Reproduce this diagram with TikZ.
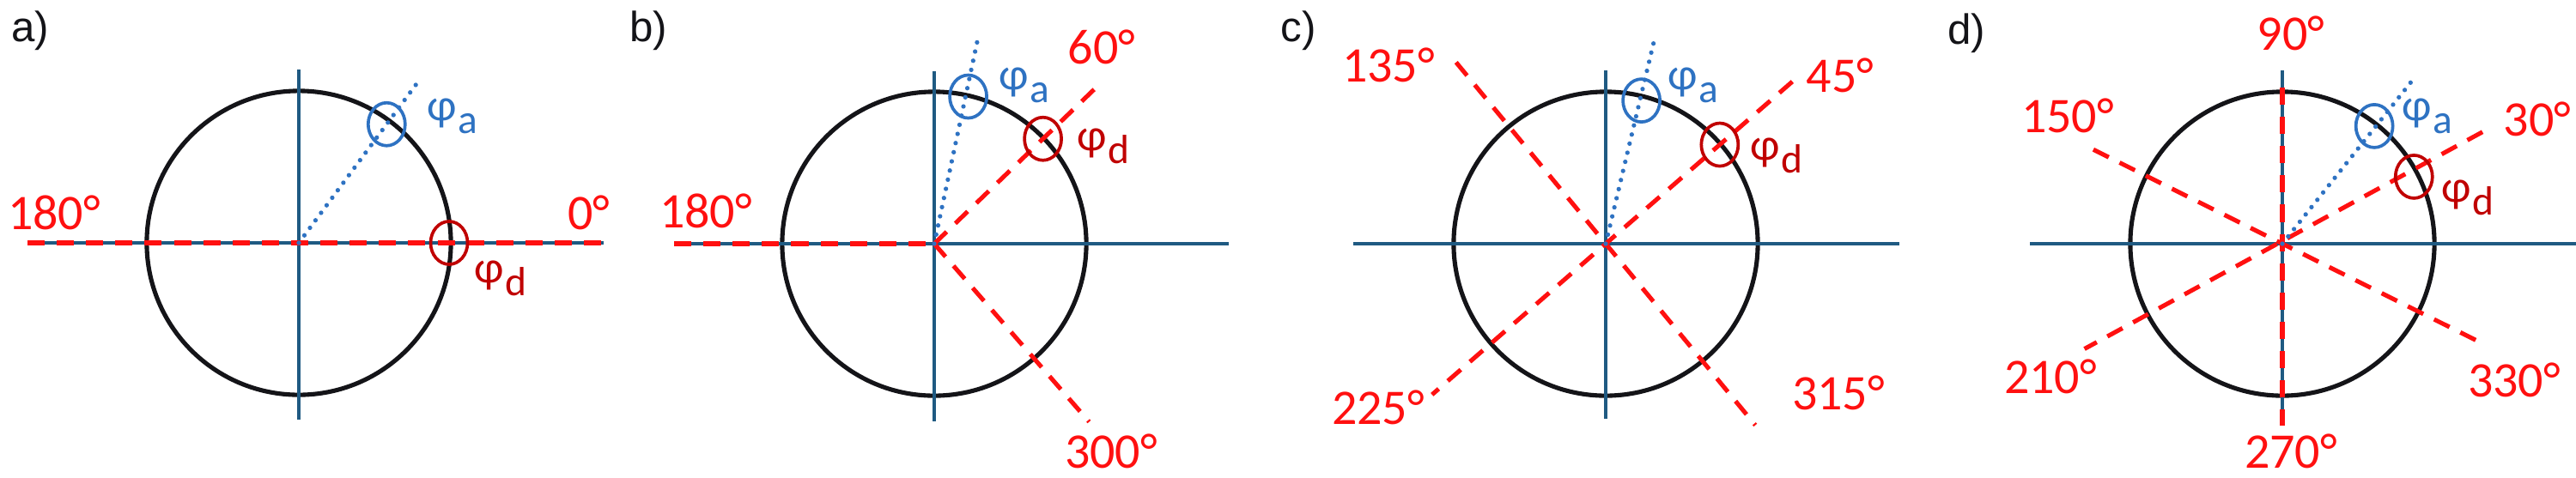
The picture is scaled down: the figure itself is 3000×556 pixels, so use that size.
\documentclass[tikz,border=0pt]{standalone}
\usepackage{fontspec}
\setmainfont{Carlito}
\newfontfamily\lblfont{Liberation Sans}
\usetikzlibrary{calc,shapes.geometric}
\definecolor{axisc}{HTML}{1F5A82}
\definecolor{ringc}{HTML}{141418}
\definecolor{redc}{HTML}{FF1010}
\definecolor{bluec}{HTML}{2E72C2}
\definecolor{dredc}{HTML}{C00000}
\newcommand\phlab[1]{φ\kern0.03em\raisebox{-0.3em}{\fontsize{13.5}{15}\selectfont #1}}
\begin{document}
\begin{tikzpicture}[x=0.01cm,y=0.01cm,
 axis/.style={draw=axisc,line width=1.3pt},
 ring/.style={draw=ringc,line width=1.45pt},
 rdash/.style={draw=redc,line width=1.45pt,dash pattern=on 5.7pt off 4pt},
 dotl/.style={draw=bluec,line width=1.5pt,line cap=round,dash pattern=on 0pt off 3.1pt},
 amark/.style={draw=bluec,line width=1.05pt,ellipse,minimum width=0.43cm,minimum height=0.5cm,inner sep=0pt},
 dmark/.style={amark,draw=dredc},
 deg/.style={text=redc,font=\fontsize{16.5}{18}\selectfont,inner sep=0pt},
 alab/.style={text=bluec,font=\fontsize{15}{17}\selectfont,inner sep=0pt,anchor=base west},
 dlab/.style={alab,text=dredc},
 plab/.style={text=ringc,font=\lblfont\fontsize{14}{16}\selectfont,inner sep=0pt}
]
\useasboundingbox (0,0) rectangle (3000,556);

% ---------- panel a ----------
\coordinate (Oa) at (348,273);
\draw[ring] (Oa) circle [radius=1.77cm];
\draw[axis] ($(Oa)+(0,202)$) -- ($(Oa)+(0,-206)$);
\draw[axis] ($(Oa)+(-316,0)$) -- ($(Oa)+(355,0)$);
\draw[rdash] ($(Oa)+(-316,0)$) -- ($(Oa)+(355,0)$);
\draw[dotl] (Oa) -- ($(Oa)+(53.5:235)$);
\node[amark] (ma) at ($(Oa)+(53.5:172)$) {};
\node[dmark] (da) at ($(Oa)+(0:175)$) {};
\node[alab] (la) at (497,416) {\phlab{a}};
\node[dlab] (lda) at (552,227) {\phlab{d}};
\node[deg] (a180) at (63,308) {180°};
\node[deg] (a0) at (686,308) {0°};
\node[plab] (pa) at (35,520) {a)};

% ---------- panel b ----------
\coordinate (Ob) at (1088,272);
\draw[ring] (Ob) circle [radius=1.77cm];
\draw[axis] ($(Ob)+(0,201)$) -- ($(Ob)+(0,-207)$);
\draw[axis] ($(Ob)+(-303,0)$) -- ($(Ob)+(343,0)$);
\draw[rdash] ($(Ob)+(-303,0)$) -- (Ob);
\draw[rdash] (Ob) -- ($(Ob)+(44:269)$);
\draw[rdash] (Ob) -- ($(Ob)+(-49:275)$);
\draw[dotl] (Ob) -- ($(Ob)+(78:245)$);
\node[amark] (mb) at ($(Ob)+(77:176)$) {};
\node[dmark] (db) at ($(Ob)+(44:176)$) {};
\node[alab] (lb) at (1163,452) {\phlab{a}};
\node[dlab] (ldb) at (1254,381) {\phlab{d}};
\node[deg] (b60) at (1283,501) {60°};
\node[deg] (b180) at (822,310) {180°};
\node[deg] (b300) at (1294,30) {300°};
\node[plab] (pb) at (755,520) {b)};

% ---------- panel c ----------
\coordinate (Oc) at (1870,272);
\draw[ring] (Oc) circle [radius=1.77cm];
\draw[axis] ($(Oc)+(0,202)$) -- ($(Oc)+(0,-204)$);
\draw[axis] ($(Oc)+(-294,0)$) -- ($(Oc)+(342,0)$);
\draw[rdash] ($(Oc)+(129.5:274)$) -- ($(Oc)+(-50.5:274)$);
\draw[rdash] ($(Oc)+(41:288)$) -- ($(Oc)+(221:268)$);
\draw[dotl] (Oc) -- ($(Oc)+(76.6:242)$);
\node[amark] (mc) at ($(Oc)+(76:172)$) {};
\node[dmark] (dc) at ($(Oc)+(41:176)$) {};
\node[alab] (lc) at (1942,452) {\phlab{a}};
\node[dlab] (ldc) at (2038,370) {\phlab{d}};
\node[deg] (c135) at (1617,480) {135°};
\node[deg] (c45) at (2143,468) {45°};
\node[deg] (c225) at (1605,81) {225°};
\node[deg] (c315) at (2141,98) {315°};
\node[plab] (pc) at (1512,520) {c)};

% ---------- panel d ----------
\coordinate (Od) at (2658,272);
\draw[ring] (Od) circle [radius=1.77cm];
\draw[axis] ($(Od)+(0,202)$) -- ($(Od)+(0,-212)$);
\draw[axis] ($(Od)+(-294,0)$) -- ($(Od)+(342,0)$);
\draw[rdash] ($(Od)+(0,182)$) -- ($(Od)+(0,-212)$);
\draw[rdash] ($(Od)+(153.5:246)$) -- ($(Od)+(-26.5:254)$);
\draw[rdash] ($(Od)+(29.2:267)$) -- ($(Od)+(208:261)$);
\draw[dotl] (Od) -- ($(Od)+(51.5:243)$);
\node[amark] (md) at ($(Od)+(52:174)$) {};
\node[dmark] (dd) at ($(Od)+(27:172)$) {};
\node[alab] (ld) at (2797,416) {\phlab{a}};
\node[dlab] (ldd) at (2843,321) {\phlab{d}};
\node[deg] (d90) at (2668,517) {90°};
\node[deg] (d150) at (2408,421) {150°};
\node[deg] (d30) at (2955,417) {30°};
\node[deg] (d210) at (2388,117) {210°};
\node[deg] (d330) at (2928,113) {330°};
\node[deg] (d270) at (2668,30) {270°};
\node[plab] (pd) at (2290,517) {d)};
\end{tikzpicture}
\end{document}
